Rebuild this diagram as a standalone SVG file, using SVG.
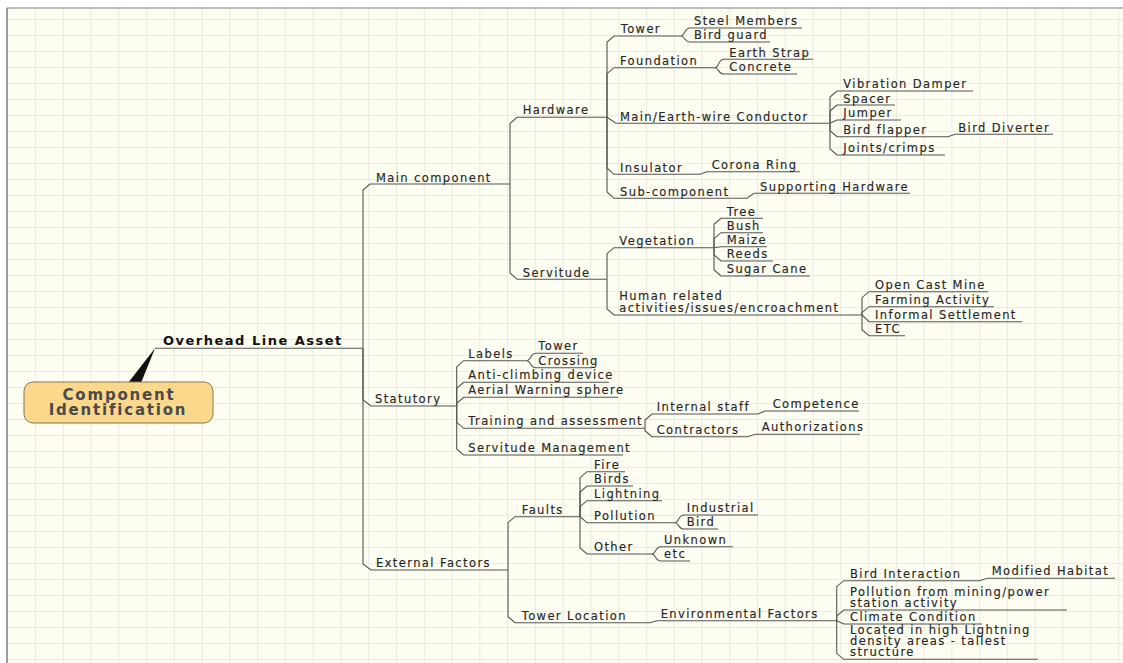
<svg xmlns="http://www.w3.org/2000/svg" width="1123" height="663" viewBox="0 0 1123 663">
<style>
.t{font-family:"DejaVu Sans",Verdana,sans-serif;font-size:11.5px;letter-spacing:1.4px;fill:#262626;stroke:#262626;stroke-width:0.15}
.c{fill:none;stroke:#555;stroke-width:1.1}
.root{font-family:"DejaVu Sans",Verdana,sans-serif;font-size:13px;font-weight:bold;letter-spacing:1.5px;fill:#111}
.call{font-family:"DejaVu Sans",Verdana,sans-serif;font-size:15px;font-weight:bold;letter-spacing:1.8px;fill:#4a4a4a}
</style>
<defs>
<pattern id="grid" x="35" y="3" width="27.77" height="16" patternUnits="userSpaceOnUse">
<path d="M0,0 V16 M0,0 H27.77" stroke="#e5e8dc" stroke-width="1.6" fill="none"/>
</pattern>
</defs>
<rect width="1123" height="663" fill="#fff"/>
<rect x="7" y="8" width="1116" height="655" fill="#fdfdf2"/>
<rect x="7" y="8" width="1116" height="655" fill="url(#grid)"/>
<path d="M7,8 H1123" stroke="#a8a8a8" stroke-width="1.5"/>
<path d="M7,8 V663" stroke="#808080" stroke-width="1.5"/>

<g id="connectors">
<path class="c" d="M155,348.3 H363"/>
<path class="c" d="M363,348.3 V190 L370,184 H510"/>
<path class="c" d="M363,348.3 V400 L371,406 H456.7"/>
<path class="c" d="M363,348.3 V564 L371,570 H508"/>
<path class="c" d="M510,184 V123.5 L517,117.3 H607"/>
<path class="c" d="M510,184 V273 L517,279.3 H607"/>
<path class="c" d="M607,117.3 V42 L614,36 H681"/>
<path class="c" d="M607,117.3 V73.7 L614,67.7 H715"/>
<path class="c" d="M607,117.3 L616,123.3 H830"/>
<path class="c" d="M607,117.3 V168 L614,174.3 H700 L707,171.7 H800"/>
<path class="c" d="M607,117.3 V192 L614,198.3 H747 L754,193.3 H910"/>
<path class="c" d="M681,36 C685,36 684,28 690,28 H802"/>
<path class="c" d="M681,36 C685,36 684,42 690,42 H770"/>
<path class="c" d="M715,67.7 C719,67.7 718,59.3 724,59.3 H813"/>
<path class="c" d="M715,67.7 C719,67.7 718,74 724,74 H797"/>
<path class="c" d="M830,123.3 V97 L837,91 H973"/>
<path class="c" d="M830,123.3 V111 L837,105 H895"/>
<path class="c" d="M830,123.3 L837,120 H901"/>
<path class="c" d="M830,123.3 V130.7 L837,136.7 H948 L955,134.3 H1053"/>
<path class="c" d="M830,123.3 V149 L837,155 H945"/>
<path class="c" d="M607,279.3 V253.7 L614,247.7 H714"/>
<path class="c" d="M607,279.3 V309 L614,315 H862"/>
<path class="c" d="M714,247.7 V224.3 L721,218.3 H763"/>
<path class="c" d="M714,247.7 V238.7 L721,232.7 H763"/>
<path class="c" d="M714,247.7 L721,246.7 H767"/>
<path class="c" d="M714,247.7 V255 L721,261 H773"/>
<path class="c" d="M714,247.7 V270 L721,276 H810"/>
<path class="c" d="M862,315 V297.7 L869,291.7 H988"/>
<path class="c" d="M862,315 V312.7 L869,306.7 H994"/>
<path class="c" d="M862,315 L869,321.7 H1022"/>
<path class="c" d="M862,315 V329.7 L869,335.7 H905"/>
<path class="c" d="M456.7,406 V366.7 L463.7,360.7 H527"/>
<path class="c" d="M456.7,406 V388.3 L463.7,382.3 H609"/>
<path class="c" d="M456.7,406 V403.3 L463.7,397.3 H618"/>
<path class="c" d="M456.7,406 V422.3 L463.7,428.3 H645"/>
<path class="c" d="M456.7,406 V449 L463.7,455 H623"/>
<path class="c" d="M527,360.7 C531,360.7 530,353.3 536,353.3 H583"/>
<path class="c" d="M527,360.7 C531,360.7 530,367.7 536,367.7 H592"/>
<path class="c" d="M645,428.3 V420 L652,414 H758 L765,411 H859"/>
<path class="c" d="M645,428.3 V430.7 L652,436.7 H748 L755,434.3 H860"/>
<path class="c" d="M508,570 V522.7 L515,516.7 H580"/>
<path class="c" d="M508,570 V616.7 L515,622.7 H650 L657,620.7 H836.7"/>
<path class="c" d="M580,516.7 V477.7 L587,471.7 H625"/>
<path class="c" d="M580,516.7 V492 L587,486 H633"/>
<path class="c" d="M580,516.7 V506.7 L587,500.7 H662"/>
<path class="c" d="M580,516.7 L587,522.7 H675"/>
<path class="c" d="M580,516.7 V548 L587,554 H652"/>
<path class="c" d="M675,522.7 C679,522.7 678,515 684,515 H758"/>
<path class="c" d="M675,522.7 C679,522.7 678,529 684,529 H718"/>
<path class="c" d="M652,554 C656,554 655,546.7 661,546.7 H733"/>
<path class="c" d="M652,554 C656,554 655,561 661,561 H690"/>
<path class="c" d="M836.7,620.7 V586.7 L843.7,580.7 H980 L987,578.3 H1115"/>
<path class="c" d="M836.7,620.7 V616 L843.7,610 H1067"/>
<path class="c" d="M836.7,620.7 L843.7,624 H982"/>
<path class="c" d="M836.7,620.7 V653.3 L843.7,659.3 H1038"/>
</g>

<g id="callout">
<path d="M128,383 L155,348.3 L141,383 Z" fill="#111"/>
<rect x="24" y="382" width="189" height="41" rx="9" fill="#fbd88c" stroke="#8a7750" stroke-width="1"/>
<text class="call" x="119" y="400" text-anchor="middle">Component</text>
<text class="call" x="118" y="414.5" text-anchor="middle">Identification</text>
</g>
<g id="n-root"><text class="root" x="163" y="345">Overhead Line Asset</text></g>

<g id="n-main"><text class="t" x="376" y="181.5">Main component</text></g>
<g id="n-hardware"><text class="t" x="522.7" y="114">Hardware</text></g>
<g id="n-tower"><text class="t" x="620.7" y="33">Tower</text></g>
<g id="n-steel"><text class="t" x="694" y="25">Steel Members</text></g>
<g id="n-birdguard"><text class="t" x="694" y="39.3">Bird guard</text></g>
<g id="n-foundation"><text class="t" x="620" y="64.7">Foundation</text></g>
<g id="n-earthstrap"><text class="t" x="729.3" y="56.5">Earth Strap</text></g>
<g id="n-concrete"><text class="t" x="729.3" y="71">Concrete</text></g>
<g id="n-conductor"><text class="t" x="620" y="120.5">Main/Earth-wire Conductor</text></g>
<g id="n-vibration"><text class="t" x="843.3" y="88.3">Vibration Damper</text></g>
<g id="n-spacer"><text class="t" x="843.3" y="102.5">Spacer</text></g>
<g id="n-jumper"><text class="t" x="843.3" y="116.7">Jumper</text></g>
<g id="n-birdflapper"><text class="t" x="843.3" y="134">Bird flapper</text></g>
<g id="n-birddiverter"><text class="t" x="958.3" y="131.5">Bird Diverter</text></g>
<g id="n-joints"><text class="t" x="843.3" y="152">Joints/crimps</text></g>
<g id="n-insulator"><text class="t" x="620" y="171.5">Insulator</text></g>
<g id="n-corona"><text class="t" x="711.7" y="168.7">Corona Ring</text></g>
<g id="n-subcomp"><text class="t" x="620" y="195.5">Sub-component</text></g>
<g id="n-supporting"><text class="t" x="760" y="190.5">Supporting Hardware</text></g>
<g id="n-servitude"><text class="t" x="522.7" y="276.5">Servitude</text></g>
<g id="n-vegetation"><text class="t" x="619.3" y="244.7">Vegetation</text></g>
<g id="n-tree"><text class="t" x="726.7" y="215.5">Tree</text></g>
<g id="n-bush"><text class="t" x="726.7" y="229.7">Bush</text></g>
<g id="n-maize"><text class="t" x="726.7" y="243.7">Maize</text></g>
<g id="n-reeds"><text class="t" x="726.7" y="258">Reeds</text></g>
<g id="n-sugar"><text class="t" x="726.7" y="273">Sugar Cane</text></g>
<g id="n-human"><text class="t" x="619.3" y="300">Human related<tspan x="619.3" dy="12">activities/issues/encroachment</tspan></text></g>
<g id="n-opencast"><text class="t" x="875" y="288.7">Open Cast Mine</text></g>
<g id="n-farming"><text class="t" x="875" y="303.7">Farming Activity</text></g>
<g id="n-informal"><text class="t" x="875" y="318.7">Informal Settlement</text></g>
<g id="n-etc1"><text class="t" x="875" y="332.7">ETC</text></g>
<g id="n-statutory"><text class="t" x="375" y="403">Statutory</text></g>
<g id="n-labels"><text class="t" x="468.3" y="357.7">Labels</text></g>
<g id="n-ltower"><text class="t" x="538.3" y="350.3">Tower</text></g>
<g id="n-crossing"><text class="t" x="538.3" y="364.7">Crossing</text></g>
<g id="n-anticlimb"><text class="t" x="468.3" y="379.3">Anti-climbing device</text></g>
<g id="n-aerial"><text class="t" x="468.3" y="394">Aerial Warning sphere</text></g>
<g id="n-training"><text class="t" x="468.3" y="425.3">Training and assessment</text></g>
<g id="n-internal"><text class="t" x="656.7" y="411">Internal staff</text></g>
<g id="n-competence"><text class="t" x="772.7" y="408">Competence</text></g>
<g id="n-contractors"><text class="t" x="656.7" y="433.7">Contractors</text></g>
<g id="n-authorizations"><text class="t" x="761.7" y="431.3">Authorizations</text></g>
<g id="n-servmgmt"><text class="t" x="468.3" y="452">Servitude Management</text></g>
<g id="n-external"><text class="t" x="376" y="567.3">External Factors</text></g>
<g id="n-faults"><text class="t" x="521.7" y="513.7">Faults</text></g>
<g id="n-fire"><text class="t" x="594" y="468.7">Fire</text></g>
<g id="n-birds"><text class="t" x="594" y="483">Birds</text></g>
<g id="n-lightning"><text class="t" x="594" y="497.7">Lightning</text></g>
<g id="n-pollution"><text class="t" x="594" y="519.7">Pollution</text></g>
<g id="n-industrial"><text class="t" x="686.7" y="512">Industrial</text></g>
<g id="n-bird"><text class="t" x="686.7" y="526">Bird</text></g>
<g id="n-other"><text class="t" x="594" y="551">Other</text></g>
<g id="n-unknown"><text class="t" x="664" y="543.7">Unknown</text></g>
<g id="n-etc2"><text class="t" x="664" y="558">etc</text></g>
<g id="n-towerloc"><text class="t" x="521.7" y="619.7">Tower Location</text></g>
<g id="n-env"><text class="t" x="660.7" y="617.7">Environmental Factors</text></g>
<g id="n-birdint"><text class="t" x="850" y="577.7">Bird Interaction</text></g>
<g id="n-modhab"><text class="t" x="991.7" y="575.3">Modified Habitat</text></g>
<g id="n-pollmining"><text class="t" x="850" y="595.5">Pollution from mining/power<tspan x="850" dy="11.3">station activity</tspan></text></g>
<g id="n-climate"><text class="t" x="850" y="621">Climate Condition</text></g>
<g id="n-located"><text class="t" x="850" y="634">Located in high Lightning<tspan x="850" dy="11">density areas - tallest</tspan><tspan x="850" dy="11">structure</tspan></text></g>
</svg>
